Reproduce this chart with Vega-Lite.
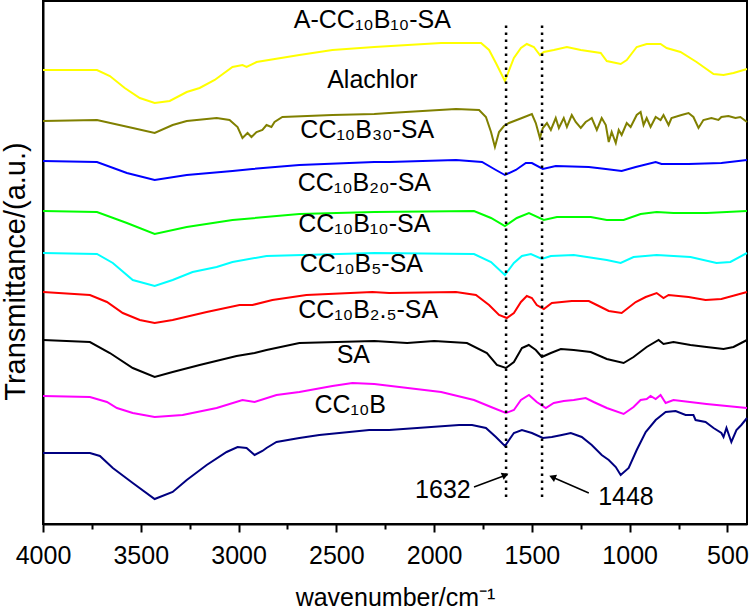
{
  "$schema": "https://vega.github.io/schema/vega-lite/v6.json",
  "width": 704,
  "height": 523,
  "autosize": {"type": "none"},
  "padding": {"left": 43, "top": 1, "right": 3, "bottom": 89},
  "config": {
    "font": "Liberation Sans",
    "view": {"stroke": "black", "strokeWidth": 2},
    "axis": {"grid": false}
  },
  "datasets": {
    "spectra": [
      {"s":"A-CC10B10-SA","wn":4000,"t":454},{"s":"A-CC10B10-SA","wn":3724,"t":454},{"s":"A-CC10B10-SA","wn":3658,"t":448},{"s":"A-CC10B10-SA","wn":3582,"t":436},{"s":"A-CC10B10-SA","wn":3505,"t":426},{"s":"A-CC10B10-SA","wn":3429,"t":421},{"s":"A-CC10B10-SA","wn":3352,"t":423},{"s":"A-CC10B10-SA","wn":3265,"t":432},{"s":"A-CC10B10-SA","wn":3199,"t":436},{"s":"A-CC10B10-SA","wn":3122,"t":444},{"s":"A-CC10B10-SA","wn":3031,"t":457},{"s":"A-CC10B10-SA","wn":2980,"t":459},{"s":"A-CC10B10-SA","wn":2959,"t":457},{"s":"A-CC10B10-SA","wn":2908,"t":462},{"s":"A-CC10B10-SA","wn":2689,"t":469},{"s":"A-CC10B10-SA","wn":2520,"t":474},{"s":"A-CC10B10-SA","wn":2306,"t":477},{"s":"A-CC10B10-SA","wn":1964,"t":481},{"s":"A-CC10B10-SA","wn":1760,"t":481},{"s":"A-CC10B10-SA","wn":1719,"t":474},{"s":"A-CC10B10-SA","wn":1684,"t":461},{"s":"A-CC10B10-SA","wn":1638,"t":443},{"s":"A-CC10B10-SA","wn":1592,"t":466},{"s":"A-CC10B10-SA","wn":1556,"t":476},{"s":"A-CC10B10-SA","wn":1526,"t":480},{"s":"A-CC10B10-SA","wn":1490,"t":477},{"s":"A-CC10B10-SA","wn":1459,"t":469},{"s":"A-CC10B10-SA","wn":1439,"t":472},{"s":"A-CC10B10-SA","wn":1388,"t":474},{"s":"A-CC10B10-SA","wn":1321,"t":477},{"s":"A-CC10B10-SA","wn":1250,"t":474},{"s":"A-CC10B10-SA","wn":1148,"t":471},{"s":"A-CC10B10-SA","wn":1117,"t":463},{"s":"A-CC10B10-SA","wn":1046,"t":460},{"s":"A-CC10B10-SA","wn":1015,"t":464},{"s":"A-CC10B10-SA","wn":964,"t":477},{"s":"A-CC10B10-SA","wn":913,"t":480},{"s":"A-CC10B10-SA","wn":842,"t":480},{"s":"A-CC10B10-SA","wn":811,"t":476},{"s":"A-CC10B10-SA","wn":740,"t":472},{"s":"A-CC10B10-SA","wn":658,"t":462},{"s":"A-CC10B10-SA","wn":571,"t":450},{"s":"A-CC10B10-SA","wn":520,"t":449},{"s":"A-CC10B10-SA","wn":469,"t":451},{"s":"A-CC10B10-SA","wn":400,"t":455},

      {"s":"Alachlor","wn":4000,"t":403},{"s":"Alachlor","wn":3724,"t":404},{"s":"Alachlor","wn":3541,"t":396},{"s":"Alachlor","wn":3429,"t":391},{"s":"Alachlor","wn":3337,"t":399},{"s":"Alachlor","wn":3265,"t":403},{"s":"Alachlor","wn":3112,"t":406},{"s":"Alachlor","wn":3046,"t":404},{"s":"Alachlor","wn":3005,"t":397},{"s":"Alachlor","wn":2980,"t":386},{"s":"Alachlor","wn":2954,"t":391},{"s":"Alachlor","wn":2934,"t":387},{"s":"Alachlor","wn":2908,"t":392},{"s":"Alachlor","wn":2878,"t":394},{"s":"Alachlor","wn":2857,"t":399},{"s":"Alachlor","wn":2832,"t":397},{"s":"Alachlor","wn":2816,"t":402},{"s":"Alachlor","wn":2776,"t":407},{"s":"Alachlor","wn":2520,"t":409},{"s":"Alachlor","wn":2306,"t":410},{"s":"Alachlor","wn":2230,"t":411},{"s":"Alachlor","wn":1888,"t":415},{"s":"Alachlor","wn":1770,"t":414},{"s":"Alachlor","wn":1735,"t":407},{"s":"Alachlor","wn":1709,"t":392},{"s":"Alachlor","wn":1689,"t":377},{"s":"Alachlor","wn":1668,"t":392},{"s":"Alachlor","wn":1643,"t":398},{"s":"Alachlor","wn":1617,"t":401},{"s":"Alachlor","wn":1551,"t":406},{"s":"Alachlor","wn":1500,"t":410},{"s":"Alachlor","wn":1480,"t":401},{"s":"Alachlor","wn":1459,"t":386},{"s":"Alachlor","wn":1444,"t":396},{"s":"Alachlor","wn":1423,"t":401},{"s":"Alachlor","wn":1403,"t":394},{"s":"Alachlor","wn":1378,"t":406},{"s":"Alachlor","wn":1362,"t":396},{"s":"Alachlor","wn":1337,"t":406},{"s":"Alachlor","wn":1321,"t":397},{"s":"Alachlor","wn":1296,"t":409},{"s":"Alachlor","wn":1276,"t":402},{"s":"Alachlor","wn":1250,"t":396},{"s":"Alachlor","wn":1225,"t":402},{"s":"Alachlor","wn":1209,"t":404},{"s":"Alachlor","wn":1194,"t":406},{"s":"Alachlor","wn":1168,"t":394},{"s":"Alachlor","wn":1143,"t":406},{"s":"Alachlor","wn":1122,"t":399},{"s":"Alachlor","wn":1107,"t":382},{"s":"Alachlor","wn":1092,"t":392},{"s":"Alachlor","wn":1071,"t":381},{"s":"Alachlor","wn":1056,"t":394},{"s":"Alachlor","wn":1041,"t":389},{"s":"Alachlor","wn":1015,"t":401},{"s":"Alachlor","wn":995,"t":397},{"s":"Alachlor","wn":964,"t":409},{"s":"Alachlor","wn":944,"t":412},{"s":"Alachlor","wn":929,"t":399},{"s":"Alachlor","wn":913,"t":406},{"s":"Alachlor","wn":893,"t":397},{"s":"Alachlor","wn":867,"t":407},{"s":"Alachlor","wn":842,"t":404},{"s":"Alachlor","wn":827,"t":409},{"s":"Alachlor","wn":801,"t":399},{"s":"Alachlor","wn":786,"t":406},{"s":"Alachlor","wn":735,"t":409},{"s":"Alachlor","wn":699,"t":411},{"s":"Alachlor","wn":674,"t":407},{"s":"Alachlor","wn":648,"t":396},{"s":"Alachlor","wn":623,"t":404},{"s":"Alachlor","wn":582,"t":406},{"s":"Alachlor","wn":546,"t":404},{"s":"Alachlor","wn":531,"t":407},{"s":"Alachlor","wn":495,"t":408},{"s":"Alachlor","wn":459,"t":406},{"s":"Alachlor","wn":434,"t":407},{"s":"Alachlor","wn":400,"t":402},

      {"s":"CC10B30-SA","wn":4000,"t":363},{"s":"CC10B30-SA","wn":3724,"t":362},{"s":"CC10B30-SA","wn":3571,"t":351},{"s":"CC10B30-SA","wn":3429,"t":344},{"s":"CC10B30-SA","wn":3265,"t":349},{"s":"CC10B30-SA","wn":3031,"t":353},{"s":"CC10B30-SA","wn":2929,"t":355},{"s":"CC10B30-SA","wn":2689,"t":359},{"s":"CC10B30-SA","wn":2306,"t":362},{"s":"CC10B30-SA","wn":2230,"t":362},{"s":"CC10B30-SA","wn":1888,"t":364},{"s":"CC10B30-SA","wn":1755,"t":362},{"s":"CC10B30-SA","wn":1684,"t":354},{"s":"CC10B30-SA","wn":1638,"t":349},{"s":"CC10B30-SA","wn":1582,"t":354},{"s":"CC10B30-SA","wn":1531,"t":361},{"s":"CC10B30-SA","wn":1500,"t":361},{"s":"CC10B30-SA","wn":1444,"t":355},{"s":"CC10B30-SA","wn":1378,"t":358},{"s":"CC10B30-SA","wn":1209,"t":357},{"s":"CC10B30-SA","wn":1122,"t":355},{"s":"CC10B30-SA","wn":1041,"t":353},{"s":"CC10B30-SA","wn":969,"t":357},{"s":"CC10B30-SA","wn":867,"t":362},{"s":"CC10B30-SA","wn":837,"t":360},{"s":"CC10B30-SA","wn":699,"t":360},{"s":"CC10B30-SA","wn":531,"t":361},{"s":"CC10B30-SA","wn":400,"t":364},

      {"s":"CC10B20-SA","wn":4000,"t":313},{"s":"CC10B20-SA","wn":3724,"t":312},{"s":"CC10B20-SA","wn":3571,"t":301},{"s":"CC10B20-SA","wn":3429,"t":290},{"s":"CC10B20-SA","wn":3265,"t":297},{"s":"CC10B20-SA","wn":3031,"t":304},{"s":"CC10B20-SA","wn":2689,"t":310},{"s":"CC10B20-SA","wn":2306,"t":312},{"s":"CC10B20-SA","wn":1796,"t":313},{"s":"CC10B20-SA","wn":1709,"t":306},{"s":"CC10B20-SA","wn":1638,"t":298},{"s":"CC10B20-SA","wn":1577,"t":306},{"s":"CC10B20-SA","wn":1515,"t":311},{"s":"CC10B20-SA","wn":1439,"t":304},{"s":"CC10B20-SA","wn":1372,"t":307},{"s":"CC10B20-SA","wn":1199,"t":307},{"s":"CC10B20-SA","wn":1117,"t":304},{"s":"CC10B20-SA","wn":1031,"t":304},{"s":"CC10B20-SA","wn":944,"t":310},{"s":"CC10B20-SA","wn":862,"t":312},{"s":"CC10B20-SA","wn":776,"t":311},{"s":"CC10B20-SA","wn":607,"t":311},{"s":"CC10B20-SA","wn":400,"t":313},

      {"s":"CC10B10-SA","wn":4000,"t":271},{"s":"CC10B10-SA","wn":3724,"t":270},{"s":"CC10B10-SA","wn":3643,"t":261},{"s":"CC10B10-SA","wn":3541,"t":244},{"s":"CC10B10-SA","wn":3429,"t":238},{"s":"CC10B10-SA","wn":3337,"t":244},{"s":"CC10B10-SA","wn":3235,"t":252},{"s":"CC10B10-SA","wn":3112,"t":257},{"s":"CC10B10-SA","wn":3031,"t":262},{"s":"CC10B10-SA","wn":2857,"t":268},{"s":"CC10B10-SA","wn":2306,"t":271},{"s":"CC10B10-SA","wn":1796,"t":270},{"s":"CC10B10-SA","wn":1709,"t":262},{"s":"CC10B10-SA","wn":1638,"t":249},{"s":"CC10B10-SA","wn":1592,"t":261},{"s":"CC10B10-SA","wn":1551,"t":268},{"s":"CC10B10-SA","wn":1505,"t":270},{"s":"CC10B10-SA","wn":1449,"t":265},{"s":"CC10B10-SA","wn":1403,"t":268},{"s":"CC10B10-SA","wn":1286,"t":269},{"s":"CC10B10-SA","wn":1117,"t":264},{"s":"CC10B10-SA","wn":1046,"t":261},{"s":"CC10B10-SA","wn":980,"t":267},{"s":"CC10B10-SA","wn":862,"t":269},{"s":"CC10B10-SA","wn":689,"t":267},{"s":"CC10B10-SA","wn":556,"t":261},{"s":"CC10B10-SA","wn":485,"t":262},{"s":"CC10B10-SA","wn":400,"t":271},

      {"s":"CC10B5-SA","wn":4000,"t":232},{"s":"CC10B5-SA","wn":3760,"t":229},{"s":"CC10B5-SA","wn":3673,"t":222},{"s":"CC10B5-SA","wn":3592,"t":211},{"s":"CC10B5-SA","wn":3505,"t":204},{"s":"CC10B5-SA","wn":3429,"t":201},{"s":"CC10B5-SA","wn":3337,"t":204},{"s":"CC10B5-SA","wn":3163,"t":212},{"s":"CC10B5-SA","wn":2995,"t":219},{"s":"CC10B5-SA","wn":2929,"t":219},{"s":"CC10B5-SA","wn":2827,"t":224},{"s":"CC10B5-SA","wn":2653,"t":229},{"s":"CC10B5-SA","wn":2316,"t":232},{"s":"CC10B5-SA","wn":2230,"t":231},{"s":"CC10B5-SA","wn":1888,"t":232},{"s":"CC10B5-SA","wn":1786,"t":229},{"s":"CC10B5-SA","wn":1719,"t":219},{"s":"CC10B5-SA","wn":1668,"t":209},{"s":"CC10B5-SA","wn":1628,"t":206},{"s":"CC10B5-SA","wn":1592,"t":211},{"s":"CC10B5-SA","wn":1556,"t":222},{"s":"CC10B5-SA","wn":1526,"t":228},{"s":"CC10B5-SA","wn":1500,"t":226},{"s":"CC10B5-SA","wn":1475,"t":219},{"s":"CC10B5-SA","wn":1439,"t":215},{"s":"CC10B5-SA","wn":1398,"t":221},{"s":"CC10B5-SA","wn":1296,"t":223},{"s":"CC10B5-SA","wn":1209,"t":223},{"s":"CC10B5-SA","wn":1168,"t":219},{"s":"CC10B5-SA","wn":1107,"t":213},{"s":"CC10B5-SA","wn":1041,"t":211},{"s":"CC10B5-SA","wn":969,"t":222},{"s":"CC10B5-SA","wn":918,"t":227},{"s":"CC10B5-SA","wn":862,"t":231},{"s":"CC10B5-SA","wn":827,"t":226},{"s":"CC10B5-SA","wn":801,"t":229},{"s":"CC10B5-SA","wn":699,"t":227},{"s":"CC10B5-SA","wn":612,"t":224},{"s":"CC10B5-SA","wn":531,"t":225},{"s":"CC10B5-SA","wn":400,"t":232},

      {"s":"CC10B2.5-SA","wn":4000,"t":184},{"s":"CC10B2.5-SA","wn":3760,"t":182},{"s":"CC10B2.5-SA","wn":3658,"t":171},{"s":"CC10B2.5-SA","wn":3541,"t":156},{"s":"CC10B2.5-SA","wn":3429,"t":147},{"s":"CC10B2.5-SA","wn":3337,"t":152},{"s":"CC10B2.5-SA","wn":3199,"t":159},{"s":"CC10B2.5-SA","wn":3010,"t":168},{"s":"CC10B2.5-SA","wn":2918,"t":171},{"s":"CC10B2.5-SA","wn":2857,"t":174},{"s":"CC10B2.5-SA","wn":2689,"t":181},{"s":"CC10B2.5-SA","wn":2306,"t":183},{"s":"CC10B2.5-SA","wn":2138,"t":181},{"s":"CC10B2.5-SA","wn":2000,"t":183},{"s":"CC10B2.5-SA","wn":1832,"t":181},{"s":"CC10B2.5-SA","wn":1730,"t":171},{"s":"CC10B2.5-SA","wn":1679,"t":159},{"s":"CC10B2.5-SA","wn":1633,"t":156},{"s":"CC10B2.5-SA","wn":1592,"t":162},{"s":"CC10B2.5-SA","wn":1551,"t":176},{"s":"CC10B2.5-SA","wn":1516,"t":179},{"s":"CC10B2.5-SA","wn":1480,"t":174},{"s":"CC10B2.5-SA","wn":1449,"t":167},{"s":"CC10B2.5-SA","wn":1403,"t":171},{"s":"CC10B2.5-SA","wn":1352,"t":175},{"s":"CC10B2.5-SA","wn":1286,"t":174},{"s":"CC10B2.5-SA","wn":1199,"t":172},{"s":"CC10B2.5-SA","wn":1117,"t":165},{"s":"CC10B2.5-SA","wn":1031,"t":161},{"s":"CC10B2.5-SA","wn":980,"t":167},{"s":"CC10B2.5-SA","wn":913,"t":177},{"s":"CC10B2.5-SA","wn":852,"t":184},{"s":"CC10B2.5-SA","wn":827,"t":180},{"s":"CC10B2.5-SA","wn":776,"t":182},{"s":"CC10B2.5-SA","wn":689,"t":179},{"s":"CC10B2.5-SA","wn":607,"t":177},{"s":"CC10B2.5-SA","wn":520,"t":175},{"s":"CC10B2.5-SA","wn":469,"t":177},{"s":"CC10B2.5-SA","wn":400,"t":184},

      {"s":"SA","wn":4000,"t":128},{"s":"SA","wn":3760,"t":127},{"s":"SA","wn":3673,"t":122},{"s":"SA","wn":3622,"t":116},{"s":"SA","wn":3541,"t":111},{"s":"SA","wn":3429,"t":107},{"s":"SA","wn":3286,"t":109},{"s":"SA","wn":3112,"t":116},{"s":"SA","wn":2980,"t":124},{"s":"SA","wn":2918,"t":122},{"s":"SA","wn":2806,"t":129},{"s":"SA","wn":2689,"t":132},{"s":"SA","wn":2520,"t":138},{"s":"SA","wn":2418,"t":141},{"s":"SA","wn":2306,"t":140},{"s":"SA","wn":1964,"t":132},{"s":"SA","wn":1796,"t":124},{"s":"SA","wn":1709,"t":117},{"s":"SA","wn":1633,"t":111},{"s":"SA","wn":1592,"t":114},{"s":"SA","wn":1556,"t":124},{"s":"SA","wn":1515,"t":129},{"s":"SA","wn":1475,"t":122},{"s":"SA","wn":1429,"t":116},{"s":"SA","wn":1388,"t":121},{"s":"SA","wn":1337,"t":123},{"s":"SA","wn":1286,"t":124},{"s":"SA","wn":1225,"t":126},{"s":"SA","wn":1184,"t":122},{"s":"SA","wn":1117,"t":116},{"s":"SA","wn":1031,"t":110},{"s":"SA","wn":980,"t":117},{"s":"SA","wn":944,"t":124},{"s":"SA","wn":913,"t":125},{"s":"SA","wn":893,"t":128},{"s":"SA","wn":867,"t":125},{"s":"SA","wn":842,"t":129},{"s":"SA","wn":816,"t":121},{"s":"SA","wn":776,"t":124},{"s":"SA","wn":607,"t":120},{"s":"SA","wn":400,"t":116},

      {"s":"CC10B","wn":4000,"t":71},{"s":"CC10B","wn":3760,"t":71},{"s":"CC10B","wn":3709,"t":68},{"s":"CC10B","wn":3643,"t":56},{"s":"CC10B","wn":3541,"t":41},{"s":"CC10B","wn":3429,"t":25},{"s":"CC10B","wn":3337,"t":32},{"s":"CC10B","wn":3265,"t":44},{"s":"CC10B","wn":3163,"t":59},{"s":"CC10B","wn":3061,"t":72},{"s":"CC10B","wn":3005,"t":77},{"s":"CC10B","wn":2959,"t":76},{"s":"CC10B","wn":2918,"t":69},{"s":"CC10B","wn":2878,"t":73},{"s":"CC10B","wn":2857,"t":76},{"s":"CC10B","wn":2806,"t":82},{"s":"CC10B","wn":2689,"t":86},{"s":"CC10B","wn":2587,"t":89},{"s":"CC10B","wn":2332,"t":94},{"s":"CC10B","wn":2230,"t":94},{"s":"CC10B","wn":1872,"t":99},{"s":"CC10B","wn":1806,"t":99},{"s":"CC10B","wn":1735,"t":96},{"s":"CC10B","wn":1684,"t":87},{"s":"CC10B","wn":1638,"t":78},{"s":"CC10B","wn":1592,"t":91},{"s":"CC10B","wn":1551,"t":94},{"s":"CC10B","wn":1500,"t":91},{"s":"CC10B","wn":1444,"t":86},{"s":"CC10B","wn":1398,"t":87},{"s":"CC10B","wn":1347,"t":89},{"s":"CC10B","wn":1301,"t":91},{"s":"CC10B","wn":1245,"t":87},{"s":"CC10B","wn":1194,"t":79},{"s":"CC10B","wn":1143,"t":69},{"s":"CC10B","wn":1107,"t":64},{"s":"CC10B","wn":1071,"t":57},{"s":"CC10B","wn":1046,"t":49},{"s":"CC10B","wn":1005,"t":56},{"s":"CC10B","wn":964,"t":74},{"s":"CC10B","wn":918,"t":92},{"s":"CC10B","wn":867,"t":104},{"s":"CC10B","wn":816,"t":112},{"s":"CC10B","wn":765,"t":113},{"s":"CC10B","wn":714,"t":109},{"s":"CC10B","wn":674,"t":109},{"s":"CC10B","wn":663,"t":104},{"s":"CC10B","wn":612,"t":102},{"s":"CC10B","wn":571,"t":96},{"s":"CC10B","wn":531,"t":91},{"s":"CC10B","wn":520,"t":87},{"s":"CC10B","wn":505,"t":96},{"s":"CC10B","wn":480,"t":82},{"s":"CC10B","wn":454,"t":94},{"s":"CC10B","wn":429,"t":99},{"s":"CC10B","wn":400,"t":106}
    ],
    "labels": [
      {"wn": 2316, "t": 496, "text": "A-CC₁₀B₁₀-SA"},
      {"wn": 2316, "t": 436, "text": "Alachlor"},
      {"wn": 2342, "t": 386, "text": "CC₁₀B₃₀-SA"},
      {"wn": 2357, "t": 333, "text": "CC₁₀B₂₀-SA"},
      {"wn": 2357, "t": 292, "text": "CC₁₀B₁₀-SA"},
      {"wn": 2372, "t": 252, "text": "CC₁₀B₅-SA"},
      {"wn": 2337, "t": 206, "text": "CC₁₀B₂.₅-SA"},
      {"wn": 2413, "t": 161, "text": "SA"},
      {"wn": 2429, "t": 111, "text": "CC₁₀B"}
    ],
    "peaks": [
      {"wn": 1632, "t": 27, "t2": 502},
      {"wn": 1448, "t": 27, "t2": 502}
    ],
    "notes": [
      {"wn": 1955, "t": 34, "text": "1632"},
      {"wn": 1019, "t": 27, "text": "1448"}
    ],
    "arrows": [
      {"wn": 1796, "t": 37, "wn2": 1645, "t2": 48},
      {"wn": 1209, "t": 31, "wn2": 1385, "t2": 46}
    ],
    "heads": [
      {"wn": 1636, "t": 49, "shape": "triangle-right", "ang": -22},
      {"wn": 1395, "t": 47, "shape": "triangle-left", "ang": 23}
    ]
  },
  "encoding": {
    "x": {
      "field": "wn", "type": "quantitative",
      "scale": {"domain": [400, 4000], "reverse": true, "nice": false, "zero": false},
      "axis": {
        "title": "wavenumber/cm⁻¹",
        "values": [4000, 3750, 3500, 3250, 3000, 2750, 2500, 2250, 2000, 1750, 1500, 1250, 1000, 750, 500],
        "format": "d",
        "labelExpr": "datum.value % 500 === 0 ? datum.label : ''",
        "tickSize": {"condition": {"test": "datum.value % 500 === 0", "value": 8}, "value": 5},
        "tickColor": "black",
        "tickWidth": 2,
        "domainColor": "black",
        "domainWidth": 2,
        "labelFontSize": 25,
        "labelColor": "black",
        "labelPadding": 11,
        "labelFlush": false,
        "labelOverlap": false,
        "titleFontSize": 25,
        "titleFontWeight": "normal",
        "titleColor": "black",
        "titleBaseline": "alphabetic",
        "titleY": 81
      }
    },
    "y": {
      "field": "t", "type": "quantitative",
      "scale": {"domain": [0, 523], "nice": false, "zero": false},
      "axis": {
        "title": "Transmittance/(a.u.)",
        "labels": false,
        "ticks": false,
        "domainColor": "black",
        "domainWidth": 2,
        "titleFontSize": 29,
        "titleFontWeight": "normal",
        "titleColor": "black",
        "titleAngle": 270,
        "titleAlign": "center",
        "titleBaseline": "middle",
        "titleX": -28,
        "titleY": 270
      }
    }
  },
  "layer": [
    {
      "data": {"name": "spectra"},
      "mark": {"type": "line", "strokeWidth": 2},
      "encoding": {
        "color": {
          "field": "s", "type": "nominal", "legend": null,
          "scale": {
            "domain": ["A-CC10B10-SA", "Alachlor", "CC10B30-SA", "CC10B20-SA", "CC10B10-SA", "CC10B5-SA", "CC10B2.5-SA", "SA", "CC10B"],
            "range": ["#FFFF00", "#808000", "#0000FF", "#00FF00", "#00FFFF", "#FF0000", "#000000", "#FF00FF", "#000080"]
          }
        }
      }
    },
    {
      "data": {"name": "peaks"},
      "mark": {"type": "rule", "color": "black", "strokeWidth": 2.5, "strokeDash": [2.5, 4.5]},
      "encoding": {
        "y2": {"field": "t2"}
      }
    },
    {
      "data": {"name": "arrows"},
      "mark": {"type": "rule", "color": "black", "strokeWidth": 1.5},
      "encoding": {
        "x2": {"field": "wn2"},
        "y2": {"field": "t2"}
      }
    },
    {
      "data": {"name": "heads"},
      "mark": {"type": "point", "filled": true, "color": "black", "size": 60, "opacity": 1},
      "encoding": {
        "shape": {"field": "shape", "type": "nominal", "scale": null, "legend": null},
        "angle": {"field": "ang", "type": "quantitative", "scale": null}
      }
    },
    {
      "data": {"name": "labels"},
      "mark": {"type": "text", "fontSize": 25, "color": "black", "align": "center", "baseline": "alphabetic", "font": "Liberation Sans"},
      "encoding": {
        "text": {"field": "text"}
      }
    },
    {
      "data": {"name": "notes"},
      "mark": {"type": "text", "fontSize": 25, "color": "black", "align": "center", "baseline": "middle", "font": "Liberation Sans"},
      "encoding": {
        "text": {"field": "text"}
      }
    }
  ]
}
